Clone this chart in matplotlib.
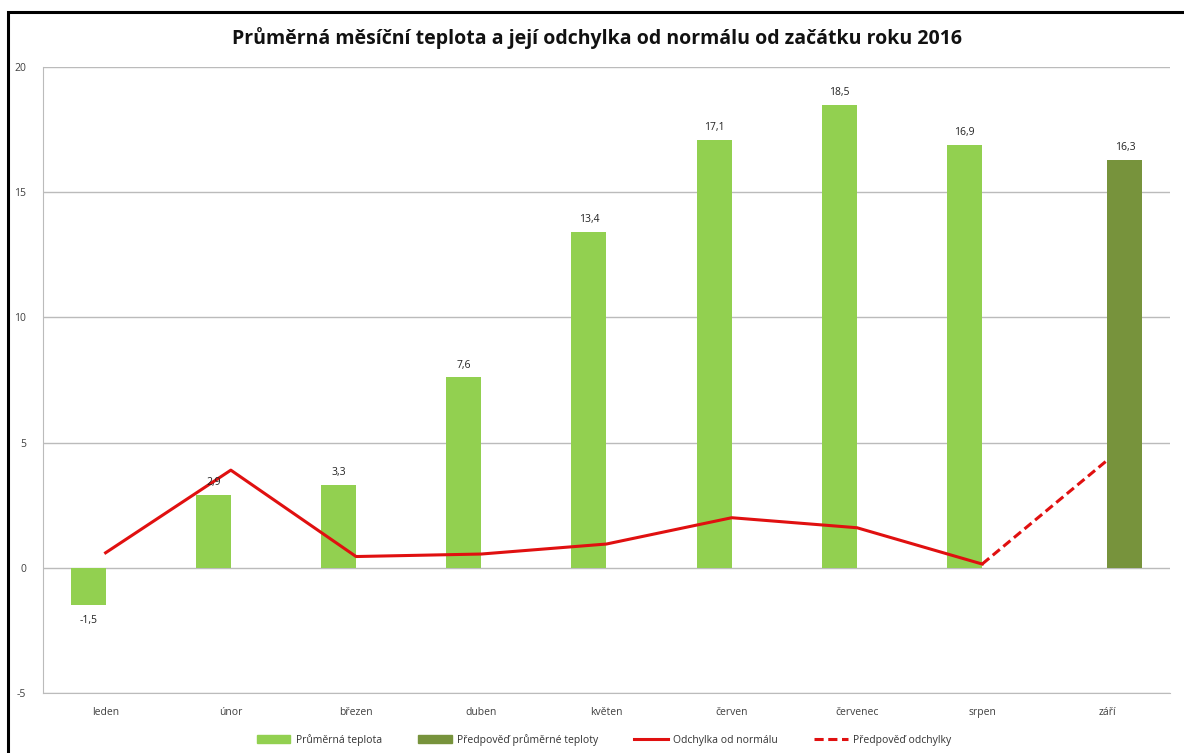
import numpy as np
import matplotlib.pyplot as plt
from matplotlib.patches import Rectangle
from matplotlib.lines import Line2D

plt.rcParams['font.family'] = ['Open Sans', 'DejaVu Sans']
plt.rcParams['axes.unicode_minus'] = False

# data
mesice = ['leden', 'únor', 'březen', 'duben', 'květen', 'červen', 'červenec', 'srpen', 'září']
teplota = [-1.5, 2.9, 3.3, 7.6, 13.4, 17.1, 18.5, 16.9, np.nan]
predpoved_teplota = [np.nan, np.nan, np.nan, np.nan, np.nan, np.nan, np.nan, np.nan, 16.3]
odchylka = [0.6, 3.9, 0.45, 0.55, 0.95, 2.0, 1.6, 0.15, np.nan]
predpoved_odchylka = [np.nan, np.nan, np.nan, np.nan, np.nan, np.nan, np.nan, 0.15, 4.3]

svetla = '#92D050'
tmava = '#77933C'
cervena = '#E01010'

x = np.arange(len(mesice))
w = 0.28

fig = plt.figure(figsize=(11.84, 7.53), dpi=100)
ax = fig.add_axes([43/1184, 1-693/753, (1170-43)/1184, (693-67)/753])

# vnejsi ramecek (viditelny jen vlevo a nahore)
fig.patches.append(Rectangle((8/1184, -0.05), 1.1, 1-12/753+0.05, transform=fig.transFigure,
                             fill=False, edgecolor='black', linewidth=2.2))

ax.bar(x - w/2, teplota, width=w, color=svetla, zorder=2)
ax.bar(x + w/2, predpoved_teplota, width=w, color=tmava, zorder=4)
ax.plot(x, odchylka, color=cervena, linewidth=2.2, zorder=3)
ax.plot(x, predpoved_odchylka, color=cervena, linewidth=2.2, linestyle=(0, (3, 1.5)), zorder=3)

# popisky hodnot
for i, v in enumerate(teplota):
    if np.isnan(v):
        continue
    if v < 0:
        ax.annotate(f'{v:.1f}'.replace('.', ','), (x[i] - w/2, v), xytext=(0, -7),
                    textcoords='offset points', ha='center', va='top', fontsize=7.5, color='#222222')
    else:
        ax.annotate(f'{v:.1f}'.replace('.', ','), (x[i] - w/2, v), xytext=(0, 5),
                    textcoords='offset points', ha='center', va='bottom', fontsize=7.5, color='#222222')
for i, v in enumerate(predpoved_teplota):
    if np.isnan(v):
        continue
    ax.annotate(f'{v:.1f}'.replace('.', ','), (x[i] + w/2, v), xytext=(0, 5),
                textcoords='offset points', ha='center', va='bottom', fontsize=7.5, color='#222222')

ax.set_xlim(-0.5, 8.5)
ax.set_ylim(-5, 20)
ax.set_yticks([-5, 0, 5, 10, 15, 20])
ax.set_xticks(x)
ax.set_xticklabels(mesice)
ax.tick_params(axis='both', length=0, labelsize=7.5, labelcolor='#404040')
ax.tick_params(axis='y', pad=12)
ax.tick_params(axis='x', pad=10)
ax.grid(axis='y', color='#BBBBBB', linewidth=1.0, zorder=0)
ax.set_axisbelow(True)
for s in ['top', 'right']:
    ax.spines[s].set_visible(False)
ax.spines['left'].set_color('#BBBBBB')
ax.spines['bottom'].set_color('#BBBBBB')

fig.text(597/1184, 1-38/753, 'Průměrná měsíční teplota a její odchylka od normálu od začátku roku 2016',
         ha='center', va='center', fontsize=14, fontweight='bold', color='#111111')

handles = [Rectangle((0, 0), 1, 1, color=svetla),
           Rectangle((0, 0), 1, 1, color=tmava),
           Line2D([], [], color=cervena, linewidth=2.2),
           Line2D([], [], color=cervena, linewidth=2.2, linestyle=(0, (3, 1.5)))]
labels = ['Průměrná teplota', 'Předpověď průměrné teploty', 'Odchylka od normálu', 'Předpověď odchylky']
fig.legend(handles, labels, loc='center', bbox_to_anchor=(604/1184, 1-740/753), ncol=4,
           frameon=False, fontsize=7.5, handlelength=3.2, handleheight=0.8, columnspacing=3.5,
           handletextpad=0.5, labelcolor='#333333')

fig.savefig('out.png', dpi=100, facecolor='white')
